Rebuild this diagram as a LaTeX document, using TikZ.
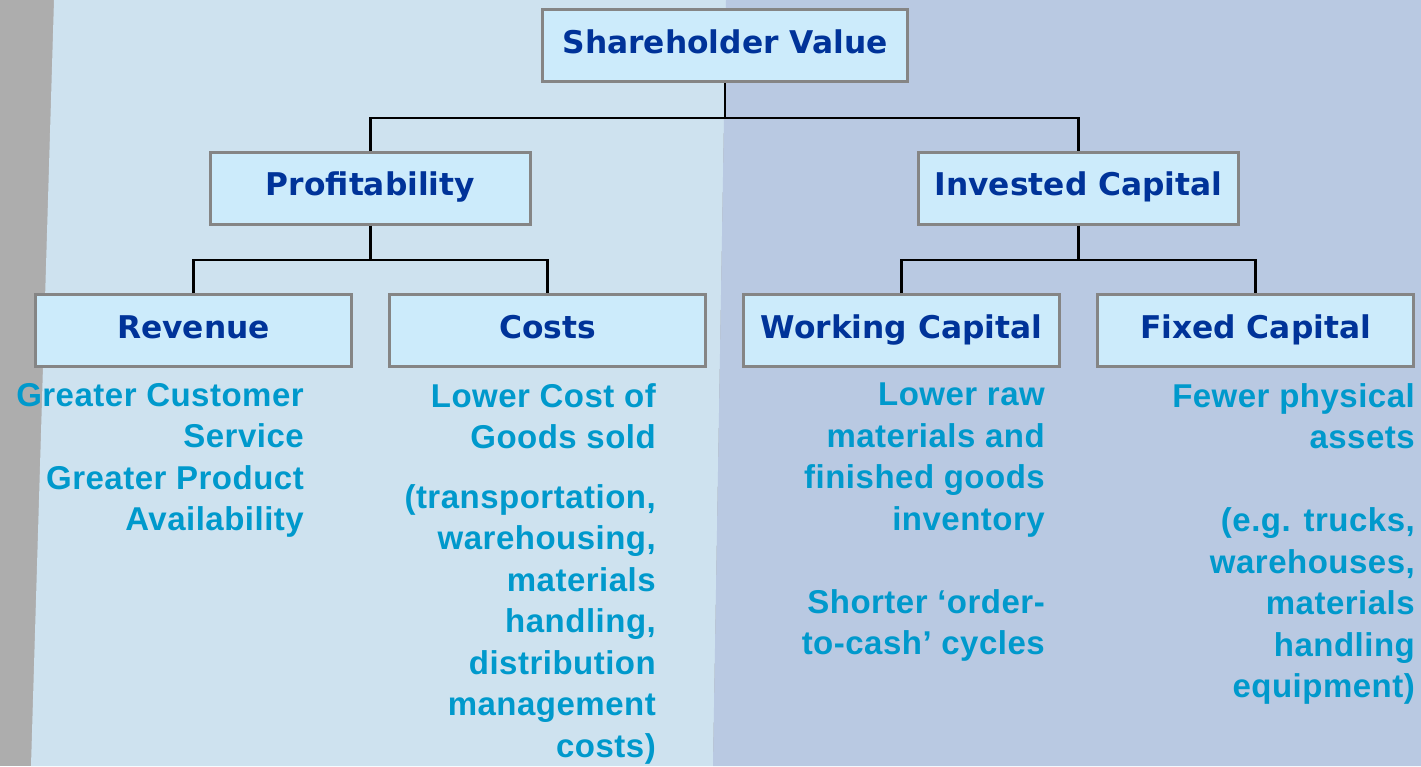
\documentclass[tikz,border=0pt]{standalone}
\usepackage{fontspec}
\setmainfont{Liberation Sans}
\newfontfamily\boxfont{DejaVu Sans}
\newfontfamily\notefont[LetterSpace=1.5]{Liberation Sans}
\definecolor{leftbg}{HTML}{CEE2EF}
\definecolor{rightbg}{HTML}{B9C9E2}
\definecolor{stripgray}{HTML}{ADADAD}
\definecolor{boxfill}{HTML}{CCEBFB}
\definecolor{boxline}{HTML}{858585}
\definecolor{titleblue}{HTML}{003399}
\definecolor{noteblue}{HTML}{0099CC}
\begin{document}
\begin{tikzpicture}[x=1pt,y=-1pt,
  box/.style={draw=boxline, line width=3pt, fill=boxfill, inner sep=0pt,
    minimum height=72pt, text height=24pt, text depth=9pt,
    font=\boxfont\bfseries\fontsize{31.3}{38}\selectfont, text=titleblue},
  note/.style={anchor=north east, align=right, inner sep=0pt,
    font=\notefont\bfseries\fontsize{33}{41.5}\selectfont, text=noteblue},
  link/.style={line width=2.8pt, draw=black}]
\useasboundingbox (0,0) rectangle (1421,766);
\fill[stripgray] (0,0) rectangle (1421,766);
\fill[leftbg] (54,0) -- (726,0) -- (713,766) -- (31,766) -- cycle;
\fill[rightbg] (726,0) -- (1421,0) -- (1421,766) -- (713,766) -- cycle;

\node[box, minimum width=365pt] (sv) at (725,45.5) {Shareholder Value};
\node[box, minimum width=320pt] (prof) at (370.5,188) {Profitability};
\node[box, minimum width=320pt] (inv) at (1078.5,188) {Invested Capital};
\node[box, minimum width=316pt] (rev) at (193.5,330.5) {Revenue};
\node[box, minimum width=316pt] (cost) at (547.5,330.5) {Costs};
\node[box, minimum width=316pt] (wc) at (901.5,330.5) {Working Capital};
\node[box, minimum width=316pt] (fc) at (1255.5,330.5) {Fixed Capital};

\coordinate (j1) at (725,118);
\coordinate (j2) at (370.5,260);
\coordinate (j3) at (1078.5,260);
\draw[link] (sv.south) -- (j1);
\draw[link] (prof.north) |- (j1) -| (inv.north);
\draw[link] (prof.south) -- (j2);
\draw[link] (rev.north) |- (j2) -| (cost.north);
\draw[link] (inv.south) -- (j3);
\draw[link] (wc.north) |- (j3) -| (fc.north);

\node[note] (revnote) at (304,383) {Greater Customer\\Service\\Greater Product\\Availability};
\node[note] (costnote) at (656,383) {Lower Cost of\\Goods sold\\[18pt](transportation,\\warehousing,\\materials\\handling,\\distribution\\management\\costs)};
\node[note] (wcnote) at (1045,383) {Lower raw\\materials and\\finished goods\\inventory\\[41.5pt]Shorter ‘order-\\to-cash’ cycles};
\node[note] (fcnote) at (1415,383) {Fewer physical\\assets\\[41.5pt](e.g. trucks,\\warehouses,\\materials\\handling\\equipment)};
\end{tikzpicture}
\end{document}
